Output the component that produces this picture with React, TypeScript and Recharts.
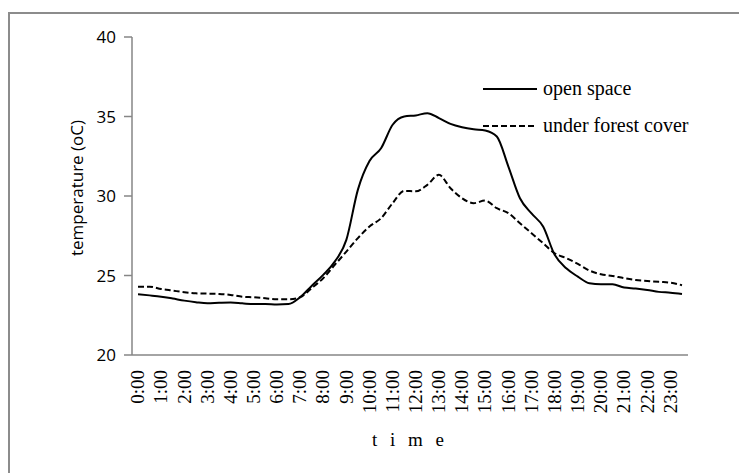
import React from 'react';
import { LineChart, Line, XAxis, YAxis, Legend, Label } from 'recharts';

const times = [
  '0:00', '0:30', '1:00', '1:30', '2:00', '2:30', '3:00', '3:30', '4:00', '4:30', '5:00', '5:30',
  '6:00', '6:30', '7:00', '7:30', '8:00', '8:30', '9:00', '9:30', '10:00', '10:30', '11:00', '11:30',
  '12:00', '12:30', '13:00', '13:30', '14:00', '14:30', '15:00', '15:30', '16:00', '16:30', '17:00', '17:30',
  '18:00', '18:30', '19:00', '19:30', '20:00', '20:30', '21:00', '21:30', '22:00', '22:30', '23:00', '23:30',
];

const openSpace = [
  23.82, 23.75, 23.67, 23.55, 23.42, 23.32, 23.25, 23.28, 23.3, 23.25, 23.2, 23.2,
  23.17, 23.2, 23.63, 24.34, 25.04, 25.87, 27.24, 30.4, 32.2, 33.0, 34.48, 35.0,
  35.07, 35.21, 34.9, 34.54, 34.33, 34.2, 34.12, 33.74, 31.85, 29.86, 28.9, 28.08,
  26.3, 25.45, 24.93, 24.51, 24.45, 24.45, 24.24, 24.18, 24.09, 23.97, 23.92, 23.84,
];

const forestCover = [
  24.3, 24.3, 24.15, 24.05, 23.95, 23.88, 23.86, 23.84, 23.78, 23.67, 23.63, 23.57,
  23.5, 23.5, 23.63, 24.2, 24.83, 25.67, 26.5, 27.35, 28.08, 28.6, 29.55, 30.32,
  30.3, 30.7, 31.33, 30.49, 29.86, 29.55, 29.71, 29.23, 28.92, 28.29, 27.66, 27.03,
  26.4, 26.09, 25.73, 25.31, 25.08, 24.97, 24.83, 24.72, 24.66, 24.6, 24.55, 24.39,
];

const yTicks = [20, 25, 30, 35, 40];

const seriesNames = ['open space', 'under forest cover'];

const data = times.map((t, i) => ({ time: t, open: openSpace[i], forest: forestCover[i] }));

const SERIF = "'Liberation Serif', 'Times New Roman', serif";
const SANS = "'Open Sans', 'Noto Sans', sans-serif";
const AXIS_GRAY = '#868686';

const XTick = (props: any) => {
  const { x, y, payload } = props;
  return (
    <text
      x={x}
      y={y}
      transform={`rotate(-90, ${x}, ${y})`}
      textAnchor="end"
      dy="0.33em"
      fontFamily={SERIF}
      fontSize={19}
      fill="#000"
    >
      {payload.value}
    </text>
  );
};

const LegendContent = (props: any) => {
  const payload = props.payload || [];
  return (
    <svg width={240} height={70} style={{ display: 'block', overflow: 'visible' }}>
      {payload.map((entry: any, i: number) => {
        const cy = 14 + i * 37;
        const dash = entry.payload && entry.payload.strokeDasharray;
        return (
          <g key={i}>
            <line x1={0} x2={54} y1={cy} y2={cy} stroke="#000" strokeWidth={2} strokeDasharray={dash} />
            <text x={60} y={cy} dy="0.32em" fontFamily={SERIF} fontSize={20} fill="#000">
              {entry.value}
            </text>
          </g>
        );
      })}
    </svg>
  );
};

export default function App() {
  return (
    <div style={{ position: 'relative', width: 739, height: 473, overflow: 'hidden', background: '#fff' }}>
      <style>{`body{margin:0}`}</style>
      <div
        style={{
          position: 'absolute',
          left: 8,
          top: 12,
          width: 900,
          height: 900,
          borderLeft: '2px solid #8c8c8c',
          borderTop: '2px solid #8c8c8c',
        }}
      />
      <div style={{ position: 'absolute', left: 0, top: 0 }}>
        <LineChart
          width={739}
          height={473}
          data={data}
          margin={{ top: 37, right: 51, bottom: 18, left: 72 }}
        >
          <XAxis
            dataKey="time"
            interval={1}
            tickLine={false}
            tickSize={0}
            tickMargin={15}
            height={100}
            padding={{ left: 6, right: 6 }}
            axisLine={{ stroke: AXIS_GRAY, strokeWidth: 1.5 }}
            tick={<XTick />}
          >
            <Label
              content={(p: any) => {
                const vb = p.viewBox || {};
                return (
                  <text
                    x={vb.x + vb.width / 2}
                    y={vb.y + 91}
                    textAnchor="middle"
                    fontFamily={SERIF}
                    fontSize={19}
                    letterSpacing={4}
                    fill="#000"
                  >
                    t i m e
                  </text>
                );
              }}
            />
          </XAxis>
          <YAxis
            type="number"
            domain={[20, 40]}
            ticks={yTicks}
            width={60}
            tickSize={8}
            tickMargin={8}
            axisLine={{ stroke: AXIS_GRAY, strokeWidth: 1.5 }}
            tickLine={{ stroke: AXIS_GRAY, strokeWidth: 1.5 }}
            tick={{ fontFamily: SANS, fontSize: 17, fill: '#000' }}
          >
            <Label
              content={(p: any) => {
                const vb = p.viewBox || {};
                const cx = 77;
                const cy = vb.y + vb.height / 2 - 8;
                return (
                  <text
                    x={cx}
                    y={cy}
                    transform={`rotate(-90, ${cx}, ${cy})`}
                    textAnchor="middle"
                    dy="0.35em"
                    fontFamily={SANS}
                    fontSize={17}
                    fill="#000"
                  >
                    temperature (oC)
                  </text>
                );
              }}
            />
          </YAxis>
          <Legend
            layout="vertical"
            align="center"
            verticalAlign="middle"
            wrapperStyle={{ left: 483, top: 75, width: 240, height: 70 }}
            content={<LegendContent />}
          />
          <Line
            name={seriesNames[0]}
            dataKey="open"
            type="monotone"
            stroke="#000"
            strokeWidth={2}
            dot={false}
            activeDot={false}
            isAnimationActive={false}
          />
          <Line
            name={seriesNames[1]}
            dataKey="forest"
            type="monotone"
            stroke="#000"
            strokeWidth={2}
            strokeDasharray="6 3"
            dot={false}
            activeDot={false}
            isAnimationActive={false}
          />
        </LineChart>
      </div>
    </div>
  );
}
